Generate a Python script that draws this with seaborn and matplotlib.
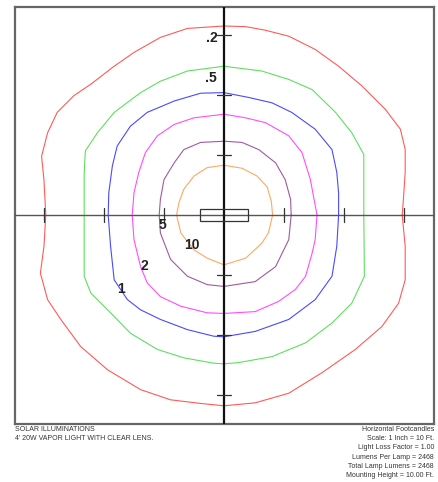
"""
Isofootcandle plot for a single 4' vapor light.
"""

import matplotlib.pyplot as plt
import pandas as pd
import seaborn as sns
from matplotlib.patches import Rectangle

sns.set_style("white")
plt.rcParams["font.family"] = ["Liberation Sans", "DejaVu Sans"]

# Contour outlines in feet, counter-clockwise from +x
x_02 = [29.7, 29.9, 30.2, 30.2, 29.4, 26.9, 23.0, 19.1, 15.2, 10.8, 6.9, 3.6, 0.0,
        -6.1, -10.6, -15.0, -18.3, -22.2, -25.0, -27.8, -29.4, -30.4, -30.0, -29.7,
        -30.0, -30.6, -29.4, -27.2, -23.9, -19.4, -13.9, -8.9, -3.9, 0.0,
        5.2, 10.8, 16.3, 21.9, 26.3, 29.1, 30.2, 30.2, 29.7]
y_02 = [0.0, 2.6, 7.1, 10.9, 14.3, 17.6, 21.5, 24.8, 27.6, 29.8, 30.8, 31.4, 31.5,
        31.1, 29.6, 27.1, 24.8, 21.8, 19.9, 17.1, 13.7, 9.8, 5.8, 0.0,
        -5.2, -9.7, -14.1, -17.4, -21.9, -25.8, -29.1, -30.8, -31.4, -31.8,
        -31.3, -29.7, -26.3, -22.4, -18.6, -14.7, -10.8, -5.2, 0.0]

x_05 = [23.3, 23.3, 21.3, 18.6, 14.7, 10.8, 6.3, 0.0,
        -6.1, -10.6, -13.9, -18.3, -21.1, -23.1, -23.3, -23.3,
        -23.3, -22.2, -18.9, -15.6, -11.1, -6.7, -1.7, 0.0,
        2.4, 8.0, 13.6, 18.0, 21.3, 23.4, 23.3]
y_05 = [0.0, 10.1, 13.7, 17.1, 20.9, 22.6, 24.0, 24.8,
        24.0, 22.3, 20.4, 17.1, 13.7, 10.7, 7.1, 0.0,
        -10.2, -13.0, -16.3, -19.7, -22.4, -23.8, -24.7, -24.8,
        -24.6, -23.6, -21.3, -18.0, -14.7, -10.2, 0.0]

x_1 = [19.1, 19.1, 18.8, 18.0, 15.2, 11.3, 8.0, 4.1, 0.0,
       -3.9, -8.3, -12.8, -15.6, -17.8, -18.6, -19.2, -19.3,
       -18.9, -18.3, -16.1, -13.9, -10.6, -6.1, -1.7, 0.0,
       5.2, 10.8, 15.2, 18.0, 18.8, 19.1]
y_1 = [0.0, 3.7, 7.1, 10.9, 14.3, 17.1, 18.7, 19.6, 20.4,
       20.3, 19.0, 17.1, 14.8, 11.5, 8.2, 3.7, 0.0,
       -5.2, -10.8, -14.1, -15.8, -17.4, -19.1, -20.2, -20.3,
       -19.4, -17.4, -14.1, -10.2, -5.2, 0.0]

x_2 = [15.5, 14.4, 13.0, 10.8, 6.9, 3.6, 0.0,
       -5.0, -8.3, -11.1, -13.1, -14.2, -15.0, -15.3,
       -15.0, -13.9, -12.8, -10.6, -7.2, -2.8, 0.0,
       5.2, 9.1, 11.9, 13.6, 14.7, 15.2, 15.5]
y_2 = [0.0, 5.9, 10.4, 13.2, 15.4, 16.2, 16.8,
       16.2, 15.1, 13.2, 10.4, 7.1, 3.7, 0.0,
       -4.1, -8.6, -11.3, -13.6, -15.2, -16.3, -16.4,
       -16.1, -14.4, -12.4, -10.2, -6.3, -4.1, 0.0]

x_5 = [11.2, 11.1, 10.2, 8.6, 5.8, 3.0, 0.0,
       -3.9, -6.7, -8.3, -10.0, -10.6, -10.8,
       -10.6, -8.9, -6.1, -2.8, 0.0,
       5.2, 8.6, 10.8, 11.2]
y_5 = [0.0, 2.6, 5.9, 8.7, 10.9, 12.1, 12.3,
       12.1, 10.9, 8.7, 5.9, 2.6, 0.0,
       -3.0, -7.4, -10.2, -11.6, -11.9,
       -11.1, -8.6, -4.1, 0.0]

x_10 = [8.1, 7.9, 7.2, 5.5, 3.0, 0.0,
        -2.8, -5.0, -6.7, -7.5, -7.9,
        -7.2, -5.0, -2.8, 0.0,
        3.6, 6.3, 7.4, 8.1]
y_10 = [0.0, 2.2, 4.7, 6.5, 7.8, 8.3,
        7.9, 6.5, 4.3, 2.1, 0.0,
        -3.0, -5.8, -7.2, -8.3,
        -7.2, -4.7, -3.0, 0.0]

levels = [".2", ".5", "1", "2", "5", "10"]
contour_x = [x_02, x_05, x_1, x_2, x_5, x_10]
contour_y = [y_02, y_05, y_1, y_2, y_5, y_10]
colors = ["#ff5a5a", "#5ee05e", "#4a4aff", "#ff4dff", "#a05aa0", "#ffa860"]

# Contour value labels (position in ft)
label_text = [".2", ".5", "5", "10", "2", "1"]
label_x = [-2.0, -2.2, -10.3, -5.3, -13.3, -17.2]
label_y = [29.5, 22.8, -1.7, -5.0, -8.5, -12.3]

tick_pos = [-30, -20, -10, 10, 20, 30]

left_notes = ["SOLAR ILLUMINATIONS", "4' 20W VAPOR LIGHT WITH CLEAR LENS."]
right_notes = [
    "Horizontal Footcandles",
    "Scale: 1 Inch = 10 Ft.",
    "Light Loss Factor = 1.00",
    "Lumens Per Lamp = 2468",
    "Total Lamp Lumens = 2468",
    "Mounting Height = 10.00 Ft.",
]

# Long-format table of the closed contour outlines
frames = []
for level, xs, ys in zip(levels, contour_x, contour_y):
    frames.append(pd.DataFrame({"level": level, "x": xs, "y": ys}))
df = pd.concat(frames, ignore_index=True)

fig = plt.figure(figsize=(4.38, 4.82), dpi=100)
ax = fig.add_axes([15 / 438, 1 - 424 / 482, 419 / 438, 417 / 482])

sns.lineplot(
    data=df, x="x", y="y", hue="level", hue_order=levels,
    palette=dict(zip(levels, colors)), sort=False, estimator=None,
    linewidth=0.8, legend=False, ax=ax,
)

# Axes crosshair
ax.axhline(0, color="#555555", linewidth=1.0, zorder=3)
ax.axvline(0, color="#111111", linewidth=1.6, zorder=3)
for t in tick_pos:
    ax.plot([t, t], [-1.1, 1.1], color="#333333", linewidth=0.9, zorder=3)
    ax.plot([-1.1, 1.1], [t, t], color="#333333", linewidth=0.9, zorder=3)

# Luminaire outline
ax.add_patch(Rectangle((-4, -1), 8, 2, fill=False, edgecolor="#333333",
                       linewidth=0.9, zorder=4))

for txt, lx, ly in zip(label_text, label_x, label_y):
    ax.text(lx, ly, txt, ha="center", va="center", fontsize=10,
            fontweight="bold", color="#222222", zorder=5)

ax.set_xlim(-34.83, 35.0)
ax.set_ylim(-34.83, 34.67)
ax.set_xticks([])
ax.set_yticks([])
ax.set_xlabel("")
ax.set_ylabel("")
for sp in ax.spines.values():
    sp.set_color("#666666")
    sp.set_linewidth(1.6)

for i, line in enumerate(left_notes):
    fig.text(15 / 438, 1 - (429.5 + 9.2 * i) / 482, line, ha="left",
             va="center", fontsize=5, color="#333333")
for i, line in enumerate(right_notes):
    fig.text(434 / 438, 1 - (429.5 + 9.2 * i) / 482, line, ha="right",
             va="center", fontsize=5, color="#333333")

fig.savefig("out.png", dpi=100)
plt.close(fig)
